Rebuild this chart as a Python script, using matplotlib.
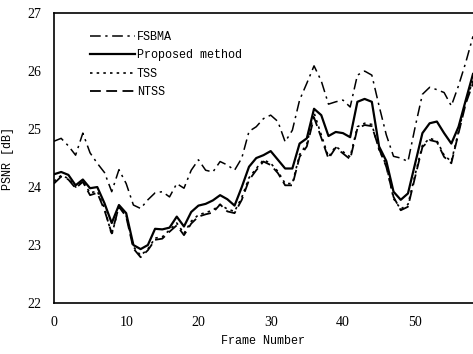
import matplotlib
matplotlib.use("Agg")
import matplotlib.pyplot as plt

frames = list(range(59))

fsbma = [24.79, 24.84, 24.71, 24.55, 24.93, 24.59, 24.41, 24.25, 23.92, 24.30,
         24.06, 23.69, 23.63, 23.78, 23.90, 23.92, 23.83, 24.06, 23.98, 24.29,
         24.47, 24.29, 24.26, 24.44, 24.38, 24.29, 24.50, 24.96, 25.04, 25.18,
         25.24, 25.13, 24.78, 24.98, 25.50, 25.79, 26.09, 25.83, 25.43, 25.47,
         25.50, 25.38, 25.93, 26.00, 25.93, 25.40, 24.90, 24.53, 24.50, 24.44,
         25.04, 25.60, 25.72, 25.68, 25.63, 25.40, 25.75, 26.15, 26.60]

proposed = [24.22, 24.26, 24.21, 24.03, 24.13, 23.98, 24.00, 23.72, 23.38, 23.69,
            23.55, 23.00, 22.93, 23.00, 23.28, 23.27, 23.30, 23.49, 23.32, 23.57,
            23.68, 23.71, 23.77, 23.86, 23.79, 23.68, 24.00, 24.35, 24.50, 24.55,
            24.62, 24.47, 24.32, 24.32, 24.75, 24.84, 25.35, 25.24, 24.88, 24.95,
            24.93, 24.86, 25.47, 25.52, 25.47, 24.70, 24.45, 23.92, 23.78, 23.89,
            24.41, 24.93, 25.10, 25.13, 24.93, 24.75, 25.04, 25.50, 25.95]

tss = [24.10, 24.20, 24.15, 24.00, 24.10, 23.90, 23.93, 23.64, 23.17, 23.67,
       23.51, 22.97, 22.82, 22.93, 23.12, 23.14, 23.26, 23.38, 23.20, 23.41,
       23.52, 23.56, 23.60, 23.70, 23.62, 23.58, 23.82, 24.16, 24.32, 24.47,
       24.41, 24.27, 24.06, 24.06, 24.56, 24.74, 25.28, 24.90, 24.52, 24.70,
       24.61, 24.52, 25.04, 25.10, 25.08, 24.64, 24.38, 23.80, 23.62, 23.70,
       24.22, 24.72, 24.84, 24.80, 24.55, 24.44, 24.96, 25.47, 25.84]

ntss = [24.06, 24.18, 24.13, 23.98, 24.09, 23.86, 23.90, 23.60, 23.20, 23.66,
        23.49, 22.94, 22.79, 22.91, 23.09, 23.11, 23.23, 23.34, 23.17, 23.37,
        23.49, 23.53, 23.56, 23.70, 23.58, 23.55, 23.78, 24.12, 24.29, 24.44,
        24.38, 24.24, 24.03, 24.03, 24.52, 24.70, 25.20, 24.85, 24.49, 24.68,
        24.58, 24.48, 25.01, 25.07, 25.05, 24.66, 24.35, 23.83, 23.60, 23.66,
        24.18, 24.69, 24.81, 24.78, 24.52, 24.41, 24.93, 25.44, 25.79]

xticks = [0, 10, 20, 30, 40, 50]
yticks = [22, 23, 24, 25, 26, 27]

fig = plt.figure(figsize=(4.73, 3.54), dpi=100)
ax = fig.add_axes([0.114, 0.144, 0.886, 0.819])

ax.plot(frames, fsbma, color='black', lw=1.1, linestyle=(0, (7, 3, 1.5, 3)), label='FSBMA')
ax.plot(frames, proposed, color='black', lw=1.6, linestyle='-', label='Proposed method')
ax.plot(frames, tss, color='black', lw=1.2, linestyle=(0, (1.5, 2.5)), label='TSS')
ax.plot(frames, ntss, color='black', lw=1.3, linestyle=(0, (6, 3)), label='NTSS')

ax.set_xlim(0, 58)
ax.set_ylim(22, 27)
ax.set_xticks(xticks)
ax.set_yticks(yticks)
ax.tick_params(length=0, pad=9)
for lbl in ax.get_xticklabels() + ax.get_yticklabels():
    lbl.set_fontfamily('Liberation Serif')
    lbl.set_fontsize(10)
ax.spines['right'].set_visible(False)
for s in ['left', 'top', 'bottom']:
    ax.spines[s].set_linewidth(1.2)

ax.set_xlabel('Frame Number', fontfamily='Liberation Mono', fontsize=8.5, labelpad=5)
ax.set_ylabel('PSNR [dB]', fontfamily='Liberation Mono', fontsize=8.5, labelpad=10)

leg = ax.legend(loc='upper left', bbox_to_anchor=(0.06, 0.975), frameon=False,
                prop={'family': 'Liberation Mono', 'size': 8.5},
                handlelength=3.8, handletextpad=0.2, labelspacing=0.55)

fig.savefig('out.png', dpi=100)
